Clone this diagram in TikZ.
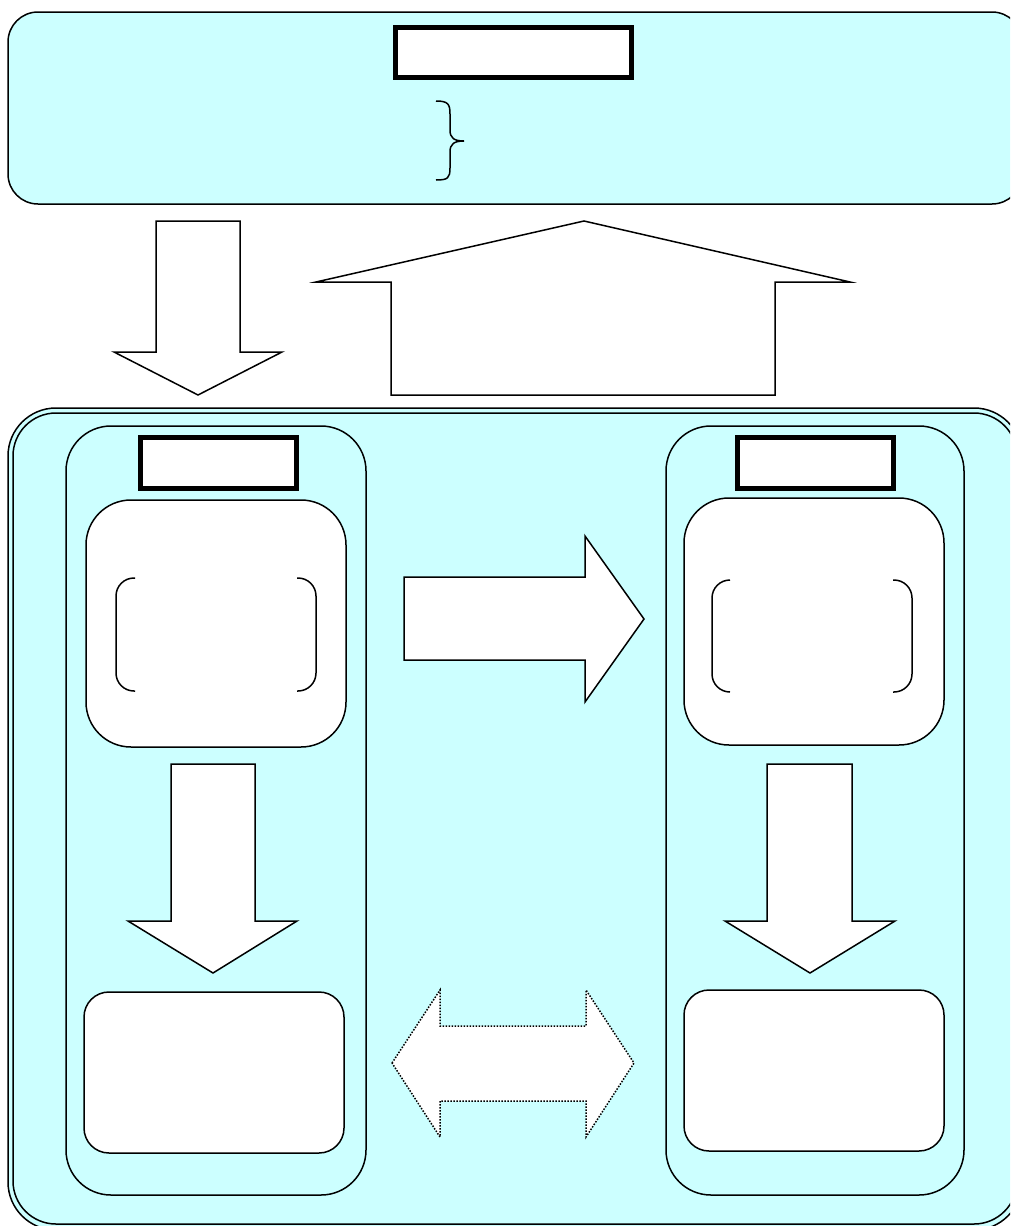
\documentclass[tikz,border=0pt]{standalone}
\definecolor{cyanbg}{HTML}{CCFFFF}
\tikzset{
  panel/.style={draw=black, line width=1.5pt, fill=cyanbg},
  whitebox/.style={draw=black, line width=1.5pt, fill=white},
  titlebox/.style={draw=black, line width=5pt, fill=white},
  blockarrow/.style={draw=black, line width=1.5pt, fill=white, line join=miter},
  dottedarrow/.style={draw=black, line width=1.5pt, fill=white, dash pattern=on 1.5pt off 1.5pt},
  bracket/.style={draw=black, line width=1.5pt},
}
\begin{document}
\begin{tikzpicture}[x=1pt,y=-1pt]
\useasboundingbox (0,0) rectangle (1010,1226);
\clip (0,0) rectangle (1010,1226);
% top panel
\draw[panel, rounded corners=30pt] (8,12) rectangle (1022,204);
\node[titlebox, minimum width=236pt, minimum height=50pt, inner sep=0pt] (toptitle) at (513,52) {};
% brace
\draw[bracket] (436,101) .. controls (448,101) and (450,104) .. (450,114)
  -- (450,130) .. controls (450,138) and (454,141) .. (464,141)
  .. controls (454,141) and (450,144) .. (450,152)
  -- (450,168) .. controls (450,178) and (448,180) .. (436,180);
% down arrow (top to bottom panel)
\draw[blockarrow] (156,221) -- (240,221) -- (240,352) -- (282,352) -- (198,395) -- (114,352) -- (156,352) -- cycle;
% up arrow (house)
\draw[blockarrow] (391,395) -- (775,395) -- (775,282) -- (850,282) -- (584,221) -- (316,282) -- (391,282) -- cycle;
% bottom panel, double border
\draw[panel, rounded corners=48pt] (8,408) rectangle (1022,1230);
\draw[black, line width=1.5pt, rounded corners=43pt] (13,413) rectangle (1017,1224);
% columns
\draw[black, line width=1.5pt, rounded corners=45pt] (66,426) rectangle (366,1195);
\draw[black, line width=1.5pt, rounded corners=45pt] (666,426) rectangle (964,1195);
% column titles
\node[titlebox, minimum width=156pt, minimum height=51pt, inner sep=0pt] (ltitle) at (218,462.5) {};
\node[titlebox, minimum width=156pt, minimum height=51pt, inner sep=0pt] (rtitle) at (815,462.5) {};
% upper white boxes
\draw[whitebox, rounded corners=45pt] (86,500) rectangle (346,747);
\draw[whitebox, rounded corners=45pt] (684,498) rectangle (944,745);
% brackets left
\draw[bracket, rounded corners=18pt] (135,578) -- (116,578) -- (116,691) -- (135,691);
\draw[bracket, rounded corners=18pt] (297,578) -- (316,578) -- (316,691) -- (297,691);
% brackets right
\draw[bracket, rounded corners=18pt] (730,580) -- (712,580) -- (712,692) -- (730,692);
\draw[bracket, rounded corners=18pt] (893,580) -- (912,580) -- (912,692) -- (893,692);
% right arrow
\draw[blockarrow] (404,577) -- (585,577) -- (585,536) -- (644,619) -- (585,702) -- (585,660) -- (404,660) -- cycle;
% down arrows in columns
\draw[blockarrow] (171,764) -- (255,764) -- (255,921) -- (297,921) -- (213,973) -- (128,921) -- (171,921) -- cycle;
\draw[blockarrow] (767,764) -- (852,764) -- (852,921) -- (895,921) -- (810,973) -- (725,921) -- (767,921) -- cycle;
% lower white boxes
\draw[whitebox, rounded corners=25pt] (84,992) rectangle (344,1153);
\draw[whitebox, rounded corners=25pt] (684,990) rectangle (944,1151);
% dotted double arrow
\draw[dottedarrow] (392,1063) -- (440,990) -- (440,1026) -- (586,1026) -- (586,990) -- (634,1063) -- (586,1137) -- (586,1101) -- (440,1101) -- (440,1137) -- cycle;
\end{tikzpicture}
\end{document}
